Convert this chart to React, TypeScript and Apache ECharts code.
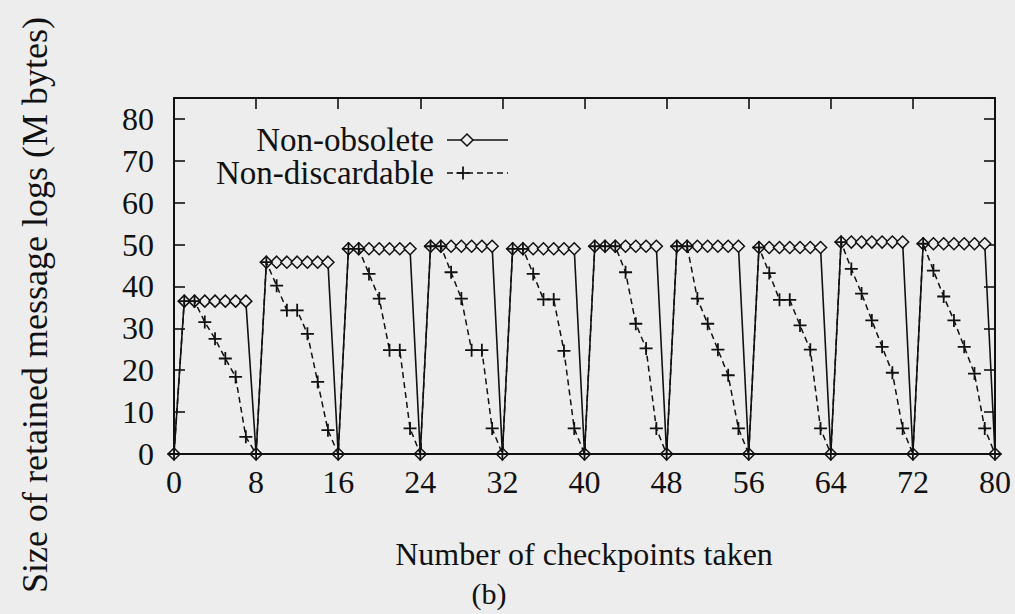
import React, { useEffect, useRef } from "react";
import * as echarts from "echarts";

// Checkpoint index = array position (0..80)
const nonObsolete: number[] = [
  0, 36.5, 36.5, 36.5, 36.5, 36.5, 36.5, 36.5,
  0, 45.8, 45.8, 45.8, 45.8, 45.8, 45.8, 45.8,
  0, 49.0, 49.0, 49.0, 49.0, 49.0, 49.0, 49.0,
  0, 49.6, 49.6, 49.6, 49.6, 49.6, 49.6, 49.6,
  0, 49.0, 49.0, 49.0, 49.0, 49.0, 49.0, 49.0,
  0, 49.6, 49.6, 49.6, 49.6, 49.6, 49.6, 49.6,
  0, 49.6, 49.6, 49.6, 49.6, 49.6, 49.6, 49.6,
  0, 49.3, 49.3, 49.3, 49.3, 49.3, 49.3, 49.3,
  0, 50.6, 50.6, 50.6, 50.6, 50.6, 50.6, 50.6,
  0, 50.2, 50.2, 50.2, 50.2, 50.2, 50.2, 50.2,
  0,
];

const nonDiscardable: number[] = [
  0, 36.5, 36.5, 31.5, 27.5, 22.8, 18.4, 4.1,
  0, 45.8, 40.2, 34.3, 34.3, 28.7, 17.2, 5.7,
  0, 49.0, 49.0, 43.0, 37.1, 24.8, 24.8, 6.1,
  0, 49.6, 49.6, 43.4, 37.1, 24.8, 24.8, 6.1,
  0, 49.0, 49.0, 43.0, 36.9, 36.9, 24.6, 6.1,
  0, 49.6, 49.6, 49.6, 43.4, 31.1, 25.2, 6.1,
  0, 49.6, 49.6, 37.1, 31.1, 24.9, 18.8, 6.1,
  0, 49.3, 43.2, 36.8, 36.8, 30.7, 24.9, 6.1,
  0, 50.6, 44.2, 38.3, 31.9, 25.6, 19.4, 6.1,
  0, 50.2, 43.8, 37.6, 31.9, 25.6, 19.2, 6.1,
  0,
];

const seriesNames = ["Non-obsolete", "Non-discardable"];
const xTitle = "Number of checkpoints taken";
const yTitle = "Size of retained message logs (M bytes)";
const caption = "(b)";

const FONT = "Liberation Serif";
const CSSFONT = `'${FONT}', 'Times New Roman', serif`;
const INK = "#111111";
const BG = "#ededed";

const PLUS = "path://M0,5.6H13V7.4H0Z M5.6,0H7.4V13H5.6Z";

// legend key layout (not data)
const KEY_TEXT_RIGHT = 434;
const KEY_LINE_X0 = 447;
const KEY_LINE_X1 = 508;
const KEY_ROWS = [140, 173];

export default function App() {
  const ref = useRef<HTMLDivElement>(null);

  useEffect(() => {
    if (!ref.current) return;
    const chart = echarts.init(ref.current, undefined, { renderer: "svg" });

    const axisLine = { show: true, onZero: false, lineStyle: { color: INK, width: 2 } };
    const tick = { show: true, inside: true, length: 11, lineStyle: { color: INK, width: 1.6 } };

    const keyText = (text: string, y: number) => ({
      type: "text",
      x: KEY_TEXT_RIGHT,
      y,
      style: {
        text,
        font: `33px ${CSSFONT}`,
        fill: INK,
        align: "right",
        verticalAlign: "middle",
      },
    });

    const r0 = KEY_ROWS[0];
    const r1 = KEY_ROWS[1];
    const dx = 467;
    const px = 463;

    chart.setOption({
      animation: false,
      backgroundColor: BG,
      textStyle: { fontFamily: FONT, color: INK },
      grid: { left: 174, right: 20, top: 98, bottom: 160, containLabel: false },
      xAxis: [
        {
          type: "value",
          position: "bottom",
          min: 0,
          max: 80,
          interval: 8,
          axisLine,
          axisTick: tick,
          splitLine: { show: false },
          axisLabel: { fontFamily: FONT, fontSize: 32, color: INK, margin: 12 },
        },
        {
          type: "value",
          position: "top",
          min: 0,
          max: 80,
          interval: 8,
          axisLine,
          axisTick: tick,
          splitLine: { show: false },
          axisLabel: { show: false },
        },
      ],
      yAxis: [
        {
          type: "value",
          position: "left",
          min: 0,
          max: 85,
          interval: 10,
          axisLine,
          axisTick: tick,
          splitLine: { show: false },
          axisLabel: {
            fontFamily: FONT,
            fontSize: 32,
            color: INK,
            margin: 20,
            showMaxLabel: false,
            formatter: (v: number) => (v > 80 ? "" : String(v)),
          },
        },
        {
          type: "value",
          position: "right",
          min: 0,
          max: 85,
          interval: 10,
          axisLine,
          axisTick: tick,
          splitLine: { show: false },
          axisLabel: { show: false },
        },
      ],
      series: [
        {
          name: seriesNames[0],
          type: "line",
          xAxisIndex: 0,
          yAxisIndex: 0,
          data: nonObsolete.map((v, i) => [i, v]),
          symbol: "diamond",
          symbolSize: [12, 12],
          showAllSymbol: true,
          lineStyle: { color: INK, width: 1.6, type: "solid" },
          itemStyle: { color: BG, borderColor: INK, borderWidth: 1.5 },
          emphasis: { disabled: true },
          z: 2,
        },
        {
          name: seriesNames[1],
          type: "line",
          xAxisIndex: 0,
          yAxisIndex: 0,
          data: nonDiscardable.map((v, i) => [i, v]),
          symbol: PLUS,
          symbolSize: [13, 13],
          showAllSymbol: true,
          lineStyle: { color: INK, width: 1.5, type: [6, 4] },
          itemStyle: { color: INK, borderWidth: 0 },
          emphasis: { disabled: true },
          z: 3,
        },
      ],
      graphic: [
        keyText(seriesNames[0], r0),
        keyText(seriesNames[1], r1),
        {
          type: "line",
          shape: { x1: KEY_LINE_X0, y1: r0, x2: KEY_LINE_X1, y2: r0 },
          style: { stroke: INK, lineWidth: 1.6 },
        },
        {
          type: "polygon",
          shape: { points: [[dx - 6, r0], [dx, r0 - 6], [dx + 6, r0], [dx, r0 + 6]] },
          style: { fill: BG, stroke: INK, lineWidth: 1.5 },
        },
        {
          type: "line",
          shape: { x1: KEY_LINE_X0, y1: r1, x2: KEY_LINE_X1, y2: r1 },
          style: { stroke: INK, lineWidth: 1.5, lineDash: [6, 4] },
        },
        {
          type: "line",
          shape: { x1: px - 6.5, y1: r1, x2: px + 6.5, y2: r1 },
          style: { stroke: INK, lineWidth: 1.8 },
        },
        {
          type: "line",
          shape: { x1: px, y1: r1 - 6.5, x2: px, y2: r1 + 6.5 },
          style: { stroke: INK, lineWidth: 1.8 },
        },
        {
          type: "text",
          x: 584,
          y: 554,
          style: {
            text: xTitle,
            font: `32px ${CSSFONT}`,
            fill: INK,
            align: "center",
            verticalAlign: "middle",
          },
        },
        {
          type: "text",
          x: 489,
          y: 593,
          style: {
            text: caption,
            font: `30px ${CSSFONT}`,
            fill: INK,
            align: "center",
            verticalAlign: "middle",
          },
        },
        {
          type: "text",
          x: 35,
          y: 305,
          rotation: Math.PI / 2,
          style: {
            text: yTitle,
            font: `36px ${CSSFONT}`,
            fill: INK,
            align: "center",
            verticalAlign: "middle",
          },
        },
      ],
    });

    return () => chart.dispose();
  }, []);

  return (
    <div
      ref={ref}
      style={{ position: "fixed", left: 0, top: 0, width: 1015, height: 614, background: BG }}
    />
  );
}
